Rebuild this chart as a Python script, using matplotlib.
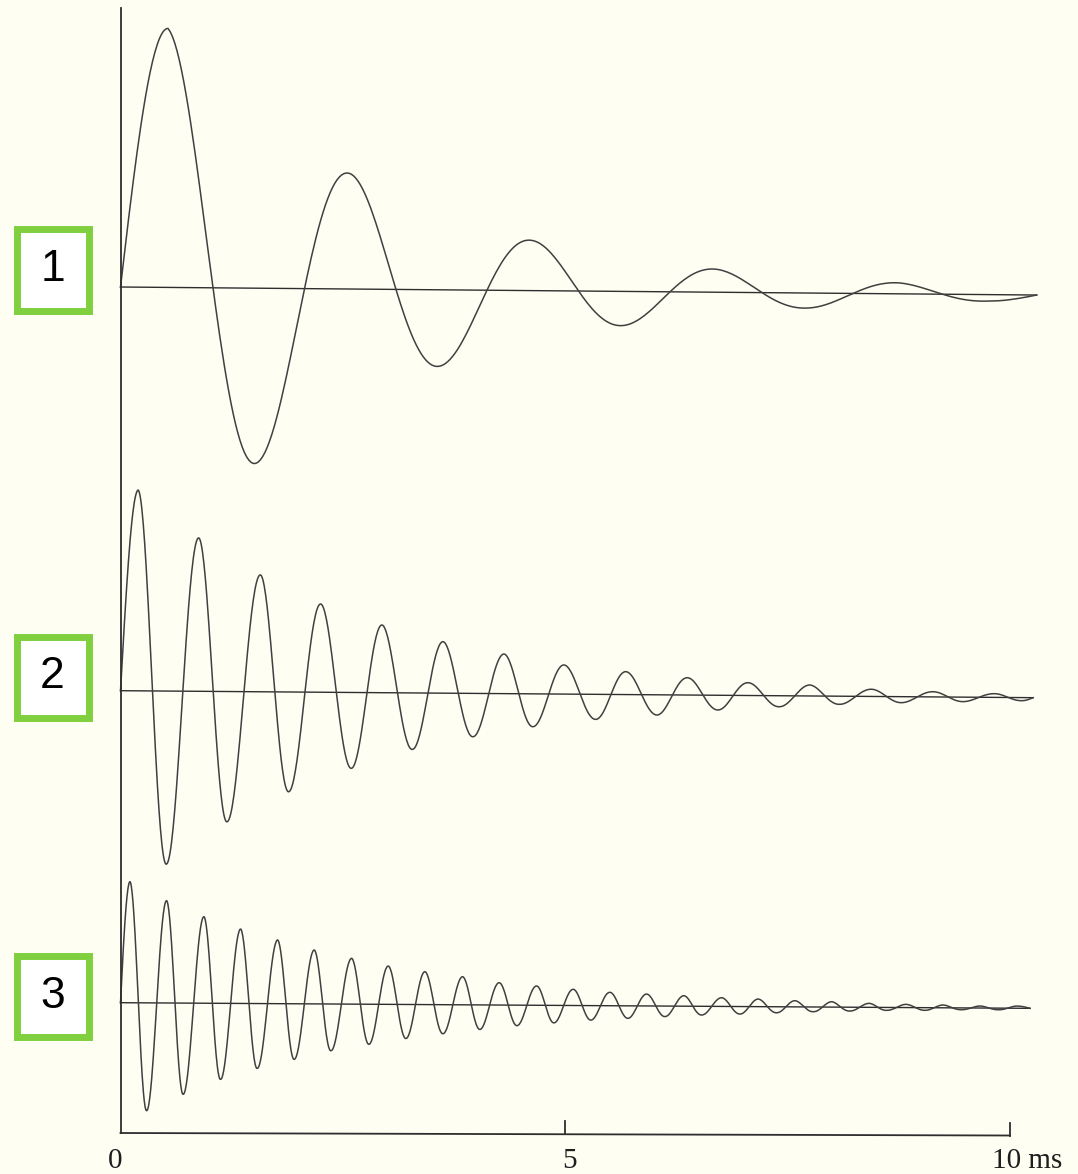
import numpy as np
import matplotlib.pyplot as plt
from matplotlib.patches import Rectangle

# DATA: times of the successive peaks/troughs (ms)
# and their heights above the zero line (arbitrary units)

trace1_t = [0.534, 1.546, 2.591, 3.603, 4.637, 5.661, 6.695, 7.729, 8.741, 9.741]
trace1_a = [259, -174, 115, -76, 50, -34, 23, -15, 11, -6.5]
trace1_end = 10.30

trace2_t = [0.200, 0.519, 0.883, 1.201, 1.576, 1.894, 2.254, 2.599, 2.943, 3.285,
            3.629, 3.966, 4.315, 4.641, 4.989, 5.346, 5.683, 6.035, 6.377, 6.721,
            7.058, 7.406, 7.752, 8.089, 8.445, 8.782, 9.138, 9.475, 9.831, 10.132]
trace2_a = [200.8, -173, 153.3, -130.2, 116.8, -99.7, 88.2, -75.8, 67.7, -56.4,
            51.5, -43.3, 39.6, -32.8, 29.1, -25, 22.9, -20.2, 17.3, -14.7,
            12.8, -11, 11, -8.1, 7.2, -6, 5.2, -4.5, 3.7, -3.1]
trace2_end = 10.26

trace3_t = [0.107, 0.295, 0.519, 0.706, 0.939, 1.126, 1.351, 1.538, 1.767, 1.954,
            2.179, 2.367, 2.599, 2.794, 3.011, 3.210, 3.423, 3.626, 3.847, 4.042,
            4.259, 4.458, 4.679, 4.874, 5.091, 5.290, 5.503, 5.705, 5.916, 6.121,
            6.335, 6.534, 6.759, 6.965, 7.170, 7.377, 7.583, 7.789, 7.995, 8.201,
            8.418, 8.614, 8.831, 9.044, 9.250, 9.457, 9.663, 9.868, 10.075]
trace3_a = [121.1, -107.8, 102.3, -91.2, 86.5, -76, 74.4, -64.8, 63.7, -55.5,
            53.9, -46.7, 45.8, -40, 38.3, -34, 32.9, -29, 28.1, -24.5,
            22.3, -20.5, 19.3, -17.5, 16.2, -14.5, 13.4, -12.5, 11.9, -10.5,
            10.5, -8.7, 8.7, -7.5, 7.6, -6, 6.2, -4.7, 5.4, -3.8,
            4.0, -2.9, 3.2, -2.65, 2.8, -1.8, 2.0, -1.6, 2.2]
trace3_end = 10.225

labels = ['1', '2', '3']
tick_ms = [0, 5, 10]
tick_labels = ['0', '5', '10 ms']

# LAYOUT (pixels of the 1078x1174 picture)

W, H = 1078, 1174
X0, PX_PER_MS = 120.5, 88.95
base = [887.0, 483.3, 171.3]      # zero line height at t=0, px from bottom
skew = [-0.78, -0.68, -0.55]      # the scan is a little rotated
box_rows = [(225, 314), (633, 721), (952, 1040)]
ink = '#404040'
green = '#7fcf3f'
paper = '#fefef3'


def ms(px):
    return (px - X0) / PX_PER_MS


def ringing(times, amps, t_end, n=40):
    # join the read extrema with damped half waves
    tk = [0.0] + list(times) + [t_end]
    ak = [0.0] + list(amps) + [0.0]
    T, Y = [], []
    last = len(tk) - 2
    for i in range(len(tk) - 1):
        s = np.linspace(0, 1, n, endpoint=False)
        if i == 0:
            y = ak[1] * np.sin(np.pi / 2 * s)
        elif i == last:
            y = ak[i] * np.cos(np.pi / 2 * s)
        else:
            r = abs(ak[i + 1] / ak[i])
            y = ak[i] * r ** s * np.cos(np.pi * s)
        T.append(tk[i] + s * (tk[i + 1] - tk[i]))
        Y.append(y)
    T.append([t_end])
    Y.append([0.0])
    return np.concatenate(T), np.concatenate(Y)


fig = plt.figure(figsize=(W / 100, H / 100), dpi=100, facecolor=paper)
ax = fig.add_axes([0, 0, 1, 1])
ax.set_xlim(ms(0), ms(W))
ax.set_ylim(0, H)
ax.axis('off')

traces = [(trace1_t, trace1_a, trace1_end),
          (trace2_t, trace2_a, trace2_end),
          (trace3_t, trace3_a, trace3_end)]

for (tt, aa, te), b, k in zip(traces, base, skew):
    t, y = ringing(tt, aa, te)
    ax.plot([0, te], [b, b + k * te], color='#2e2e2e', lw=1.0)
    ax.plot(t, b + k * t + y, color=ink, lw=1.1)

# axes of the original drawing
y_axis = H - 1133
ax.plot([0, 0], [y_axis, H - 8], color='#2e2e2e', lw=1.3)
ax.plot([0, 10], [y_axis, y_axis - 2.5], color='#2e2e2e', lw=1.3)
for tk in tick_ms[1:]:
    yb = y_axis - 2.5 * tk / 10
    ax.plot([tk, tk], [yb, yb + 13], color='#2e2e2e', lw=1.3)

ax.text(ms(115), 6, tick_labels[0], ha='center', va='baseline',
        family='Liberation Serif', fontsize=21, color='#1e1e1e')
ax.text(ms(569), 6, tick_labels[1], ha='center', va='baseline',
        family='Liberation Serif', fontsize=21, color='#1e1e1e')
ax.text(ms(992), 6, tick_labels[2], ha='left', va='baseline',
        family='Liberation Serif', fontsize=21, color='#1e1e1e')

# numbered green boxes
for lab, (r0, r1) in zip(labels, box_rows):
    x0, x1 = 13 + 3.5, 92 - 3.5
    y0, y1 = H - r1 + 3.5, H - r0 - 3.5
    rect = Rectangle((x0 / W, y0 / H), (x1 - x0) / W, (y1 - y0) / H,
                     transform=fig.transFigure, facecolor='white',
                     edgecolor=green, lw=5.0)
    fig.add_artist(rect)
    fig.text(52.5 / W, (H - (r0 + r1) / 2) / H, lab, ha='center', va='center',
             family='Liberation Sans', fontsize=32, color='black')

fig.savefig('out.png', dpi=100, facecolor=paper)
